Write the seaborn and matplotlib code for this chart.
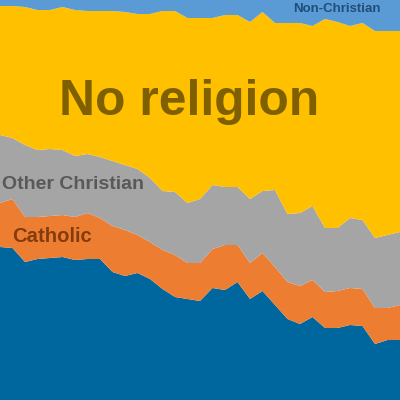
import numpy as np
import pandas as pd
import matplotlib
matplotlib.use("Agg")
import matplotlib.pyplot as plt
import seaborn as sns

# Năm khảo sát (trục x)
years = list(range(1983, 2016))

# Tỷ lệ phần trăm từng nhóm
protestant = [38.25, 38, 34.5, 35.25, 35.5, 35.75, 35, 35.25, 35.25, 32, 31, 31.75, 30.25,
              27.75, 25.75, 25.25, 24.75, 28, 27.5, 29.5, 25.25, 27.25, 23.75, 20.25, 19,
              20.75, 18, 18, 18.75, 18.5, 14, 15, 15]
catholic = [11, 12.25, 11.25, 10.5, 10.5, 10.5, 10.75, 11.5, 10.25, 11.5, 11.5, 9.5, 9.25,
            9.75, 10.5, 9, 9.5, 9.75, 11.25, 9.25, 9, 9.5, 9.5, 9.25, 9.5,
            9.25, 9, 9.25, 9.25, 9.25, 9, 8, 8.75]
other_christian = [17, 15.25, 18, 16.75, 16.75, 16.25, 15.25, 14.75, 15.25, 16.25, 16.25, 16.5, 16,
                   14.75, 15.75, 15, 16, 16, 14.5, 14.5, 16, 15.5, 19.25, 17, 18.25,
                   18.5, 16, 15.75, 17.5, 17.25, 17.5, 18.25, 18.25]
no_religion = [32.25, 33, 34.5, 35, 34.75, 35.75, 36.5, 35.75, 36.5, 37.5, 38.25, 38.75, 41,
               45, 45.25, 46.25, 45.25, 41.75, 43, 43, 44.25, 44.75, 41.75, 47.75, 47.5,
               45, 52.25, 51.5, 48, 49.25, 51.75, 51, 50.25]
non_christian = [1.5, 1.5, 1.75, 2.5, 2.5, 1.75, 2.5, 2.75, 2.75, 2.75, 3, 3.5, 3.5,
                 2.75, 2.75, 4.5, 4.5, 4.5, 3.75, 3.75, 5.5, 3, 5.75, 5.75, 5.75,
                 6.5, 4.75, 5.5, 6.5, 5.75, 7.75, 7.75, 7.75]

df = pd.DataFrame({
    "Year": years,
    "Protestant": protestant,
    "Catholic": catholic,
    "Other Christian": other_christian,
    "No religion": no_religion,
    "Non-Christian": non_christian,
})

sns.set_style("white")
plt.rcParams["font.family"] = ["Liberation Sans", "DejaVu Sans"]

colors = ["#00669e", "#ed7d31", "#a5a5a5", "#ffc000", "#5b9bd5"]
groups = ["Protestant", "Catholic", "Other Christian", "No religion", "Non-Christian"]

fig = plt.figure(figsize=(4, 4), dpi=100)
ax = fig.add_axes([0, 0, 1, 1])
ax.stackplot(df["Year"], [df[g] for g in groups], colors=sns.color_palette(colors), linewidth=0)
ax.set_xlim(years[0], years[-1])
ax.set_ylim(0, 100)
ax.axis("off")

# Nhãn các nhóm
ax.text(0.4725, 0.745, "No religion", transform=ax.transAxes, ha="center", va="center",
        fontsize=35.8, fontweight="bold", color="#7f6000")
ax.text(0.004, 0.538, "Other Christian", transform=ax.transAxes, ha="left", va="center",
        fontsize=14, fontweight="bold", color="#595959")
ax.text(0.031, 0.408, "Catholic", transform=ax.transAxes, ha="left", va="center",
        fontsize=14.6, fontweight="bold", color="#843c0c")
ax.text(0.733, 0.978, "Non-Christian", transform=ax.transAxes, ha="left", va="center",
        fontsize=9.5, fontweight="bold", color="#1f4e79")

fig.savefig("out.png", dpi=100)
